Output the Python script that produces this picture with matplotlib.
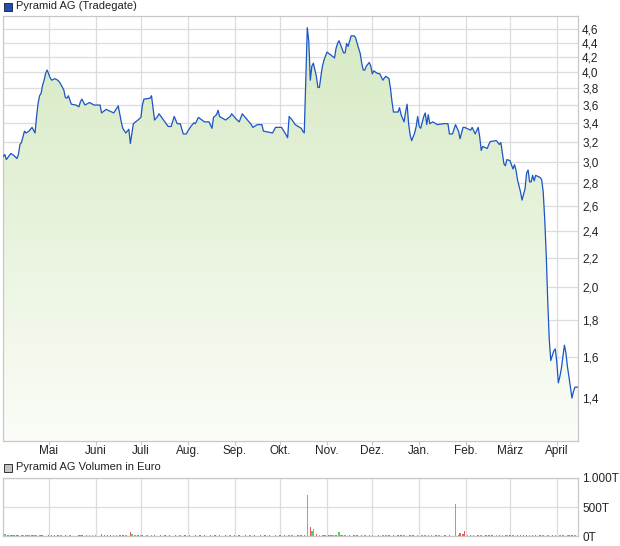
import numpy as np
import matplotlib
matplotlib.use("Agg")
import matplotlib.pyplot as plt
import matplotlib.dates as mdates
from matplotlib.colors import LinearSegmentedColormap
from matplotlib.patches import Polygon, Rectangle
from matplotlib.ticker import FixedLocator, FuncFormatter, NullLocator

plt.rcParams["font.family"] = ["Liberation Sans", "DejaVu Sans"]

start = np.datetime64("2023-04-01")

# price series: day offset from start, price in EUR
price_days = [
    0, 1, 2, 5, 7, 9, 10, 11, 12, 13, 14, 15, 17, 19, 21, 22, 23, 24, 25, 26,
    27, 28, 29, 31, 32, 34, 36, 37, 38, 40, 41, 42, 43, 45, 48, 50, 51, 52, 54, 56,
    57, 60, 64, 65, 68, 73, 76, 78, 79, 81, 83, 84, 86, 89, 91, 92, 93, 97, 98, 100,
    102, 103, 106, 109, 111, 113, 115, 117, 119, 121, 122, 124, 126, 127, 129, 133, 136, 138, 139, 141,
    142, 143, 147, 150, 151, 154, 156, 158, 161, 164, 165, 168, 171, 172, 178, 180, 184, 187, 188, 189,
    191, 193, 195, 197, 198, 199, 200, 201, 202, 203, 204, 205, 207, 208, 209, 210, 211, 212, 214, 216,
    219, 220, 221, 222, 225, 226, 227, 228, 230, 232, 233, 234, 236, 237, 238, 239, 240, 242, 243, 244,
    245, 247, 249, 251, 252, 253, 255, 256, 257, 258, 261, 262, 263, 264, 265, 266, 267, 268, 269, 270,
    272, 273, 274, 275, 276, 278, 279, 280, 281, 282, 284, 287, 291, 294, 295, 297, 299, 301, 302, 304,
    305, 309, 310, 312, 314, 315, 316, 317, 320, 321, 322, 326, 327, 328, 329, 330, 331, 332, 333, 335,
    337, 338, 339, 340, 342, 343, 345, 346, 347, 348, 349, 350, 351, 352, 355, 356, 357, 358, 359, 360,
    361, 362, 364, 365, 366, 367, 368, 369, 370, 371, 372, 373, 374, 375, 376, 377, 378, 380,
]
prices = [
    3.05, 3.07, 3.02, 3.08, 3.06, 3.03, 3.07, 3.17, 3.19, 3.25, 3.31, 3.29, 3.31, 3.35, 3.29, 3.47, 3.62, 3.71, 3.74, 3.84,
    3.90, 3.99, 4.03, 3.93, 3.90, 3.92, 3.90, 3.88, 3.85, 3.78, 3.69, 3.68, 3.71, 3.61, 3.60, 3.58, 3.64, 3.67, 3.60, 3.62,
    3.63, 3.60, 3.60, 3.51, 3.55, 3.51, 3.59, 3.41, 3.34, 3.29, 3.33, 3.18, 3.39, 3.43, 3.46, 3.60, 3.67, 3.68, 3.71, 3.43,
    3.47, 3.50, 3.43, 3.36, 3.36, 3.47, 3.39, 3.39, 3.28, 3.28, 3.31, 3.36, 3.40, 3.39, 3.46, 3.41, 3.41, 3.34, 3.46, 3.49,
    3.54, 3.47, 3.43, 3.47, 3.50, 3.44, 3.41, 3.50, 3.44, 3.38, 3.35, 3.38, 3.38, 3.31, 3.29, 3.35, 3.35, 3.27, 3.24, 3.47,
    3.43, 3.38, 3.36, 3.34, 3.31, 3.29, 3.90, 4.62, 4.42, 3.90, 4.08, 4.12, 3.95, 3.81, 3.81, 3.95, 4.08, 4.16, 4.27, 4.24,
    4.19, 4.32, 4.39, 4.43, 4.26, 4.26, 4.39, 4.35, 4.50, 4.50, 4.47, 4.39, 4.25, 4.12, 4.03, 4.03, 4.08, 4.13, 4.08, 3.98,
    4.02, 3.99, 3.98, 3.90, 3.93, 3.95, 3.92, 3.80, 3.64, 3.52, 3.52, 3.57, 3.49, 3.45, 3.41, 3.52, 3.61, 3.39, 3.27, 3.21,
    3.29, 3.36, 3.47, 3.36, 3.34, 3.47, 3.51, 3.38, 3.49, 3.39, 3.41, 3.38, 3.39, 3.39, 3.28, 3.28, 3.38, 3.31, 3.23, 3.35,
    3.35, 3.32, 3.35, 3.28, 3.35, 3.25, 3.11, 3.15, 3.13, 3.17, 3.20, 3.21, 3.19, 3.17, 3.19, 3.08, 2.98, 2.96, 3.02, 3.01,
    2.93, 2.97, 2.92, 2.83, 2.72, 2.65, 2.75, 2.89, 2.92, 2.81, 2.81, 2.87, 2.82, 2.87, 2.85, 2.83, 2.72, 2.49, 2.22, 1.91,
    1.69, 1.58, 1.63, 1.64, 1.57, 1.47, 1.50, 1.54, 1.60, 1.66, 1.62, 1.55, 1.50, 1.45, 1.40, 1.43, 1.45, 1.45,
]

# volume in thousand euro, 1 = up day (green), 0 = down day (red)
vol_days = [
    1, 3, 5, 6, 7, 9, 10, 12, 13, 15, 16, 17, 19, 20, 21, 22, 24, 25, 26, 30,
    32, 34, 36, 38, 41, 44, 50, 51, 52, 55, 57, 59, 61, 65, 67, 69, 71, 73, 75, 77,
    79, 81, 84, 85, 87, 89, 91, 92, 95, 98, 100, 104, 107, 110, 114, 117, 120, 123, 127, 130,
    133, 137, 140, 143, 147, 150, 153, 156, 160, 163, 166, 170, 173, 176, 180, 183, 186, 189, 191, 195,
    197, 199, 201, 203, 204, 205, 207, 209, 211, 212, 213, 215, 216, 217, 218, 220, 222, 223, 224, 226,
    229, 232, 234, 237, 239, 242, 244, 248, 251, 253, 255, 258, 261, 263, 265, 269, 271, 274, 277, 279,
    281, 283, 286, 288, 292, 295, 299, 301, 302, 304, 305, 307, 309, 311, 314, 316, 319, 321, 323, 326,
    328, 330, 332, 333, 335, 337, 340, 342, 344, 346, 348, 350, 352, 355, 357, 360, 363, 365, 368, 370,
    373, 374, 376, 378,
]
vol_t = [
    40, 15, 18, 20, 15, 18, 25, 15, 22, 22, 15, 20, 15, 20, 25, 22, 22, 15, 15, 22,
    15, 15, 25, 15, 22, 15, 22, 15, 22, 15, 22, 15, 15, 40, 25, 15, 15, 18, 25, 15,
    22, 15, 73, 40, 15, 18, 25, 15, 15, 22, 15, 15, 15, 15, 15, 15, 15, 15, 15, 15,
    15, 25, 15, 25, 18, 15, 15, 15, 15, 15, 15, 15, 15, 15, 15, 15, 20, 18, 15, 22,
    15, 15, 705, 164, 90, 124, 40, 30, 30, 30, 25, 20, 18, 20, 18, 18, 68, 30, 25, 25,
    15, 15, 15, 18, 15, 18, 15, 15, 20, 15, 15, 20, 15, 15, 15, 15, 15, 15, 15, 18,
    15, 20, 15, 15, 15, 15, 551, 15, 51, 45, 90, 30, 25, 20, 15, 15, 20, 15, 18, 18,
    20, 18, 25, 18, 18, 15, 15, 15, 20, 15, 15, 15, 15, 20, 22, 15, 15, 15, 15, 15,
    20, 30, 20, 15,
]
vol_up = [
    1, 0, 0, 1, 0, 0, 1, 0, 1, 1, 0, 1, 0, 1, 1, 1, 1, 0, 0, 0,
    0, 0, 0, 1, 0, 1, 0, 1, 0, 0, 1, 1, 1, 0, 0, 0, 0, 1, 1, 0,
    0, 1, 0, 1, 1, 0, 1, 0, 1, 1, 0, 0, 0, 0, 0, 1, 0, 0, 0, 0,
    0, 0, 0, 0, 0, 1, 0, 0, 0, 1, 0, 0, 0, 0, 1, 0, 0, 1, 1, 0,
    0, 0, 1, 0, 1, 1, 0, 1, 1, 0, 1, 0, 1, 0, 1, 0, 1, 1, 0, 1,
    0, 0, 0, 0, 1, 0, 1, 0, 1, 1, 0, 0, 0, 0, 1, 0, 0, 1, 1, 1,
    1, 1, 0, 1, 0, 0, 1, 0, 0, 0, 0, 1, 0, 1, 0, 1, 0, 0, 0, 1,
    0, 1, 0, 1, 0, 1, 0, 0, 0, 0, 1, 0, 0, 0, 1, 1, 0, 1, 1, 1,
    1, 0, 0, 1,
]

month_starts = ["2023-05-01", "2023-06-01", "2023-07-01", "2023-08-01", "2023-09-01",
                "2023-10-01", "2023-11-01", "2023-12-01", "2024-01-01", "2024-02-01",
                "2024-03-01", "2024-04-01"]
month_labels = ["Mai", "Juni", "Juli", "Aug.", "Sep.", "Okt.", "Nov.", "Dez.",
                "Jan.", "Feb.", "März", "April"]
price_ticks = [1.4, 1.6, 1.8, 2.0, 2.2, 2.4, 2.6, 2.8, 3.0, 3.2, 3.4, 3.6, 3.8, 4.0, 4.2, 4.4, 4.6]
vol_ticks = [0, 500, 1000]
vol_tick_labels = ["0T", "500T", "1.000T"]

W, H = 620, 546
GRID = "#dcdcdc"
FRAME = "#c8c8c8"
TXT = "#222222"

fig = plt.figure(figsize=(W / 100, H / 100), dpi=100)
ax = fig.add_axes([3 / W, 1 - 441 / H, 575 / W, 425 / H])
axv = fig.add_axes([3 / W, 1 - 536.3 / H, 575 / W, 58.6 / H])

xp = mdates.date2num(start + np.array(price_days).astype("timedelta64[D]"))
xv = mdates.date2num(start + np.array(vol_days).astype("timedelta64[D]"))
xmonth = mdates.date2num(np.array(month_starts, dtype="datetime64[D]"))
x0 = mdates.date2num(start) - 0.2
x1 = mdates.date2num(start) + 380
ylo, yhi = 1.219, 4.797

# --- price panel ---
ax.set_yscale("log")
grad = np.linspace(0, 1, 256)[:, None]
cmap = LinearSegmentedColormap.from_list("fillgrad", ["#fbfdf8", "#d5e9c2"])
img = ax.imshow(grad, cmap=cmap, origin="lower", extent=[0, 1, 0, 1],
                transform=ax.transAxes, aspect="auto", zorder=1, interpolation="bilinear")
verts = [(xp[0], ylo)] + list(zip(xp, prices)) + [(xp[-1], ylo)]
clip = Polygon(verts, closed=True, facecolor="none", edgecolor="none", transform=ax.transData)
ax.add_patch(clip)
img.set_clip_path(clip)
ax.plot(xp, prices, color="#1b55c6", lw=0.9, zorder=3)

ax.set_xlim(x0, x1)
ax.set_ylim(ylo, yhi)
ax.xaxis.set_major_locator(FixedLocator(xmonth))
ax.set_xticklabels(month_labels)
ax.yaxis.set_major_locator(FixedLocator(price_ticks))
ax.yaxis.set_minor_locator(NullLocator())
ax.yaxis.set_major_formatter(FuncFormatter(lambda v, p: f"{v:.1f}".replace(".", ",")))
ax.yaxis.tick_right()
ax.grid(True, color=GRID, lw=0.9, zorder=0)
ax.set_axisbelow(True)
ax.tick_params(axis="x", length=3, color=FRAME, labelsize=8.5, labelcolor=TXT, pad=0)
ax.tick_params(axis="y", length=0, labelsize=8.5, labelcolor=TXT, pad=3)
for s in ax.spines.values():
    s.set_color(FRAME)
    s.set_linewidth(0.9)

# --- volume panel ---
colors = ["#4fd64f" if u else "#e85a5a" for u in vol_up]
axv.bar(xv, vol_t, width=1.0, color=colors, zorder=2, linewidth=0)
axv.set_xlim(x0, x1)
axv.set_ylim(0, 1000)
axv.xaxis.set_major_locator(FixedLocator(xmonth))
axv.set_xticklabels([])
axv.yaxis.set_major_locator(FixedLocator(vol_ticks))
axv.set_yticklabels(vol_tick_labels)
axv.yaxis.tick_right()
axv.grid(True, color=GRID, lw=0.9, zorder=0)
axv.set_axisbelow(True)
axv.tick_params(axis="x", length=0)
axv.tick_params(axis="y", length=0, labelsize=8.5, labelcolor=TXT, pad=3)
for s in axv.spines.values():
    s.set_color(FRAME)
    s.set_linewidth(0.9)

# --- headers ---
fig.add_artist(Rectangle((4 / W, 1 - 11 / H), 8 / W, 8 / H, transform=fig.transFigure,
                         facecolor="#1f4fb5", edgecolor="#1a1a1a", lw=0.6))
fig.text(15.5 / W, 1 - 6 / H, "Pyramid AG (Tradegate)", fontsize=8, color=TXT, va="center")
fig.add_artist(Rectangle((4 / W, 1 - 472 / H), 8 / W, 8 / H, transform=fig.transFigure,
                         facecolor="#c4c4c4", edgecolor="#1a1a1a", lw=0.6))
fig.text(15.5 / W, 1 - 467.5 / H, "Pyramid AG Volumen in Euro", fontsize=8, color=TXT, va="center")

fig.savefig("out.png", dpi=100)
